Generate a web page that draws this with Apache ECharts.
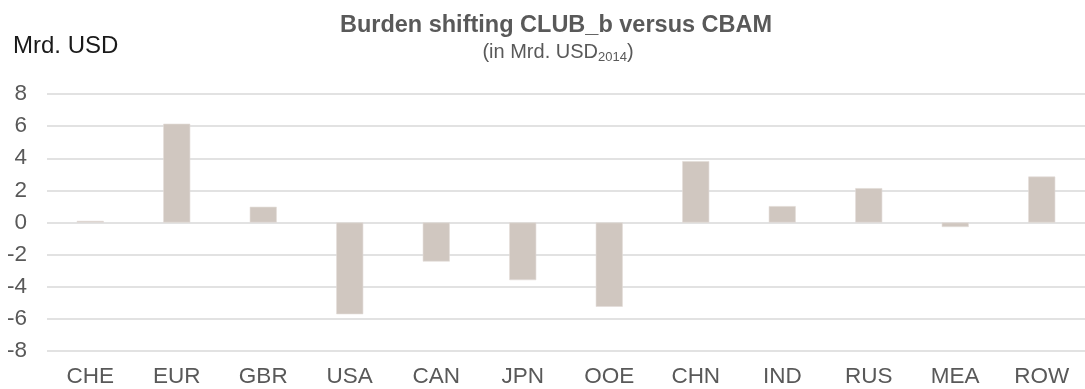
<!DOCTYPE html>
<html>
<head>
<meta charset="utf-8">
<title>Burden shifting CLUB_b versus CBAM</title>
<script src="https://cdn.jsdelivr.net/npm/echarts@6/dist/echarts.min.js"></script>
<style>
  html, body { margin: 0; padding: 0; background: #ffffff; }
  #chart { width: 1085px; height: 389px; }
</style>
</head>
<body>
<div id="chart"></div>
<script>
// Regions and burden shift per region (Mrd. USD, 2014 prices)
const regions = ['CHE', 'EUR', 'GBR', 'USA', 'CAN', 'JPN', 'OOE', 'CHN', 'IND', 'RUS', 'MEA', 'ROW'];
const burdenShift = [0.1, 6.15, 0.98, -5.71, -2.43, -3.59, -5.25, 3.82, 1.02, 2.14, -0.28, 2.86];
const yTicks = { min: -8, max: 8, step: 2 };

const FONT = '"Liberation Sans", Arial, Helvetica, sans-serif';
const NARROW = '"Liberation Sans Narrow", "Arial Narrow", ' + FONT;
const GREY = '#595959';

const chart = echarts.init(document.getElementById('chart'), null, { renderer: 'canvas' });

chart.setOption({
  animation: false,
  backgroundColor: '#ffffff',
  title: [
    {
      text: 'Burden shifting CLUB_b versus CBAM',
      left: 551,
      top: 9,
      textAlign: 'center',
      textStyle: { fontFamily: FONT, fontSize: 23.5, fontWeight: 'bold', color: GREY }
    },
    {
      text: '{a|(in Mrd. USD}{s|2014}{a|)}',
      left: 553,
      top: 35,
      textAlign: 'center',
      textStyle: {
        rich: {
          a: { fontFamily: NARROW, fontSize: 20, fontWeight: 'normal', color: GREY, lineHeight: 24 },
          s: { fontFamily: NARROW, fontSize: 13, fontWeight: 'normal', color: GREY, padding: [10, 0, 0, 0], lineHeight: 24 }
        }
      }
    },
    {
      text: 'Mrd. USD',
      left: 8,
      top: 29,
      textStyle: { fontFamily: FONT, fontSize: 24, fontWeight: 'normal', color: '#1a1a1a' }
    }
  ],
  grid: { left: 47, top: 94, width: 1048, height: 257, containLabel: false },
  xAxis: {
    type: 'category',
    data: regions,
    axisLine: { show: false },
    axisTick: { show: false },
    axisLabel: { fontFamily: FONT, fontSize: 22.5, color: GREY, margin: 14 },
    splitLine: { show: false }
  },
  yAxis: {
    type: 'value',
    min: yTicks.min,
    max: yTicks.max,
    interval: yTicks.step,
    axisLine: { show: false },
    axisTick: { show: false },
    axisLabel: { fontFamily: FONT, fontSize: 22.5, color: GREY, margin: 20 },
    splitLine: { lineStyle: { color: '#d9d9d9', width: 1.5 } }
  },
  series: [{
    type: 'bar',
    data: burdenShift,
    barWidth: 27,
    itemStyle: { color: '#d0c7c0', borderColor: '#e2dcd7', borderWidth: 0.6 }
  }]
});
</script>
</body>
</html>
